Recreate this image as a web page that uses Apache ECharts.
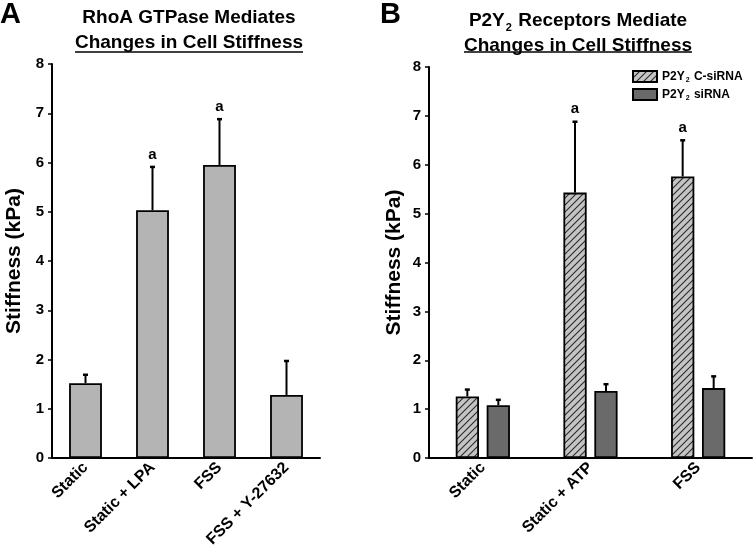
<!DOCTYPE html>
<html>
<head>
<meta charset="utf-8">
<script src="https://cdn.jsdelivr.net/npm/echarts@6/dist/echarts.min.js"></script>
<style>html,body{margin:0;padding:0;background:#fff}#c{width:753px;height:555px}</style>
</head>
<body>
<div id="c"></div>
<script>
// ---- data ----
const categoriesA = ['Static', 'Static + LPA', 'FSS', 'FSS + Y-27632'];
const stiffnessA = [1.52, 5.03, 5.95, 1.28];
const errorA = [0.17, 0.88, 0.93, 0.69];
const sigA = ['', 'a', 'a', ''];

const categoriesB = ['Static', 'Static + ATP', 'FSS'];
const controlSiRNA = [1.26, 5.43, 5.76];
const controlSiRNAErr = [0.14, 1.45, 0.74];
const controlSig = ['', 'a', 'a'];
const p2y2SiRNA = [1.08, 1.37, 1.43];
const p2y2SiRNAErr = [0.11, 0.14, 0.24];
const p2y2Sig = ['', '', ''];

const yMin = 0, yMax = 8, yInterval = 1;

// ---- styles ----
const FONT = '"Liberation Sans", Arial, sans-serif';
function hatch() {
  const s = 7;
  const c = document.createElement('canvas');
  c.width = s; c.height = s;
  const g = c.getContext('2d');
  g.fillStyle = '#c4c4c4';
  g.fillRect(0, 0, s, s);
  g.strokeStyle = '#2a2a2a';
  g.lineWidth = 1.1;
  g.beginPath();
  g.moveTo(-1, s + 1); g.lineTo(s + 1, -1);
  g.moveTo(-1, 1); g.lineTo(1, -1);
  g.moveTo(s - 1, s + 1); g.lineTo(s + 1, s - 1);
  g.stroke();
  return c;
}

const chart = echarts.init(document.getElementById('c'), null, {renderer: 'canvas'});

function errSeries(xAxisIndex, vals, errs, sigs, offsetFrac) {
  return {
    type: 'custom',
    xAxisIndex: xAxisIndex, yAxisIndex: xAxisIndex,
    z: 5,
    silent: true,
    data: vals.map((v, i) => [i, v, errs[i]]),
    renderItem: function (params, api) {
      const i = api.value(0), v = api.value(1), e = api.value(2);
      const base = api.coord([i, v]);
      const top = api.coord([i, v + e]);
      const band = api.size([1, 0])[0];
      const x = base[0] + offsetFrac * band;
      const children = [
        {type: 'line', shape: {x1: x, y1: base[1], x2: x, y2: top[1]}, style: {stroke: '#000', lineWidth: 2}},
        {type: 'line', shape: {x1: x - 2.5, y1: top[1], x2: x + 2.5, y2: top[1]}, style: {stroke: '#000', lineWidth: 2.5}}
      ];
      const s = sigs[params.dataIndex];
      if (s) {
        children.push({type: 'text', x: x, y: top[1] - 5,
          style: {text: s, align: 'center', verticalAlign: 'bottom', font: 'bold 15px ' + FONT, fill: '#000'}});
      }
      return {type: 'group', children: children};
    }
  };
}

const yAxisCommon = {
  type: 'value', min: yMin, max: yMax, interval: yInterval,
  name: 'Stiffness (kPa)', nameLocation: 'middle',
  nameTextStyle: {fontFamily: FONT, fontWeight: 'bold', fontSize: 21, color: '#000'},
  axisLine: {show: true, lineStyle: {color: '#000', width: 2}},
  axisTick: {show: true, length: 4, lineStyle: {color: '#000', width: 1.5}},
  axisLabel: {fontFamily: FONT, fontWeight: 'bold', fontSize: 15, color: '#000', margin: 8},
  splitLine: {show: false}
};
const xAxisCommon = {
  type: 'category',
  axisLine: {show: true, onZero: false, lineStyle: {color: '#000', width: 2}},
  axisTick: {show: false},
  axisLabel: {fontFamily: FONT, fontWeight: 'bold', fontSize: 16, color: '#000', rotate: 45, margin: 7, interval: 0}
};

const TITLE_SIZE = 19;
const titleRich = {
  t: {fontFamily: FONT, fontWeight: 'bold', fontSize: TITLE_SIZE, color: '#000'},
  s: {fontFamily: FONT, fontWeight: 'bold', fontSize: 11, color: '#000', padding: [14, 1, 0, 1]}
};

const hatchImg = hatch();

const option = {
  backgroundColor: '#fff',
  animation: false,
  title: [
    {text: 'A', left: 0, top: 0, padding: 0, textStyle: {fontFamily: FONT, fontWeight: 'bold', fontSize: 29, color: '#000'}},
    {text: 'B', left: 380, top: 0, padding: 0, textStyle: {fontFamily: FONT, fontWeight: 'bold', fontSize: 29, color: '#000'}},
    {text: 'RhoA GTPase Mediates', subtext: 'Changes in Cell Stiffness', left: 189, top: 8, padding: 0, itemGap: 6, textAlign: 'center',
      textStyle: {fontFamily: FONT, fontWeight: 'bold', fontSize: TITLE_SIZE, color: '#000'},
      subtextStyle: {fontFamily: FONT, fontWeight: 'bold', fontSize: TITLE_SIZE, color: '#000'}},
    {text: '{t|P2Y}{s|2}{t| Receptors Mediate}', subtext: 'Changes in Cell Stiffness', left: 578, top: 8, padding: 0, itemGap: 6, textAlign: 'center',
      textStyle: {rich: titleRich},
      subtextStyle: {fontFamily: FONT, fontWeight: 'bold', fontSize: TITLE_SIZE, color: '#000'}}
  ],
  legend: {
    data: ['P2Y2 C-siRNA', 'P2Y2 siRNA'],
    orient: 'vertical', left: 627, top: 65, itemWidth: 24, itemHeight: 11, itemGap: 4,
    icon: 'rect',
    selectedMode: false,
    formatter: function (name) { return name === 'P2Y2 siRNA' ? '{b|P2Y}{s|2}{b| siRNA}' : '{b|P2Y}{s|2}{b| C-siRNA}'; },
    textStyle: {rich: {
      b: {fontFamily: FONT, fontWeight: 'bold', fontSize: 12, color: '#000'},
      s: {fontFamily: FONT, fontWeight: 'bold', fontSize: 7, color: '#000', padding: [8, 1, 0, 1]}
    }}
  },
  grid: [
    {left: 52, top: 64, width: 268, height: 394, containLabel: false},
    {left: 429, top: 67, right: 1, height: 391, containLabel: false}
  ],
  xAxis: [
    Object.assign({}, xAxisCommon, {gridIndex: 0, data: categoriesA}),
    Object.assign({}, xAxisCommon, {gridIndex: 1, data: categoriesB})
  ],
  yAxis: [
    Object.assign({}, yAxisCommon, {gridIndex: 0, nameGap: 27}),
    Object.assign({}, yAxisCommon, {gridIndex: 1, nameGap: 24})
  ],
  series: [
    {type: 'bar', xAxisIndex: 0, yAxisIndex: 0, data: stiffnessA, barWidth: '49%',
      itemStyle: {color: '#b4b4b4', borderColor: '#000', borderWidth: 1.8}},
    errSeries(0, stiffnessA, errorA, sigA, 0),
    {type: 'bar', name: 'P2Y2 C-siRNA', xAxisIndex: 1, yAxisIndex: 1, data: controlSiRNA, barWidth: '21.6%', barGap: '33%',
      itemStyle: {color: {image: hatchImg, repeat: 'repeat'}, borderColor: '#000', borderWidth: 1.8}},
    {type: 'bar', name: 'P2Y2 siRNA', xAxisIndex: 1, yAxisIndex: 1, data: p2y2SiRNA, barWidth: '21.6%', barGap: '33%',
      itemStyle: {color: '#6a6a6a', borderColor: '#000', borderWidth: 1.8}},
    errSeries(1, controlSiRNA, controlSiRNAErr, controlSig, -0.144),
    errSeries(1, p2y2SiRNA, p2y2SiRNAErr, p2y2Sig, 0.144)
  ]
};
chart.setOption(option);

// underline the second title line of each panel
function underline(cx, text) {
  const ctx = document.createElement('canvas').getContext('2d');
  ctx.font = 'bold ' + TITLE_SIZE + 'px ' + FONT;
  const w = ctx.measureText(text).width;
  return {type: 'line', silent: true, shape: {x1: cx - w / 2, y1: 52, x2: cx + w / 2, y2: 52}, style: {stroke: '#000', lineWidth: 1.5}};
}
chart.setOption({graphic: [underline(189, 'Changes in Cell Stiffness'), underline(578, 'Changes in Cell Stiffness')]});
</script>
</body>
</html>
